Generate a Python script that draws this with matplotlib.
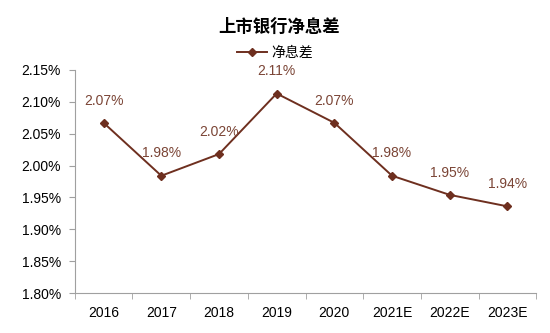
import matplotlib
matplotlib.use("Agg")
import matplotlib.pyplot as plt
import numpy as np

plt.rcParams['font.family'] = ['Liberation Sans', 'Noto Sans CJK SC']

# data
years = ['2016', '2017', '2018', '2019', '2020', '2021E', '2022E', '2023E']
nim = [2.067, 1.984, 2.018, 2.113, 2.067, 1.984, 1.954, 1.936]

line_color = '#6E2F1F'
label_color = '#7B4536'
axis_color = '#A0A0A0'

fig = plt.figure(figsize=(5.5, 3.33), dpi=100)
ax = fig.add_axes([0.136, 0.12, 0.839, 0.67])

x = np.arange(len(years))
ax.plot(x, nim, color=line_color, lw=1.4, marker='D', ms=4.5, label='净息差')

for xi, v in zip(x, nim):
    ax.annotate(f'{v:.2f}%', (xi, v), xytext=(0, 11), textcoords='offset points',
                ha='center', va='bottom', fontsize=10, color=label_color)

ax.set_xlim(-0.5, len(years) - 0.5)
ax.set_ylim(1.80, 2.15)
ax.set_yticks(np.arange(1.80, 2.151, 0.05))
ax.set_yticklabels([f'{t:.2f}%' for t in np.arange(1.80, 2.151, 0.05)])
ax.set_xticks(x)
ax.set_xticklabels(years)
ax.set_xticks(np.arange(-0.5, len(years)), minor=True)
ax.tick_params(axis='x', which='major', length=0, pad=9, labelsize=10)
ax.tick_params(axis='x', which='minor', length=4, color=axis_color)
ax.tick_params(axis='y', length=4, color=axis_color, labelsize=10, pad=6)

for s in ['top', 'right']:
    ax.spines[s].set_visible(False)
for s in ['left', 'bottom']:
    ax.spines[s].set_color(axis_color)

fig.text(0.508, 0.922, '上市银行净息差', ha='center', va='center',
         fontsize=12.5, fontweight='bold')
fig.legend(loc='center', bbox_to_anchor=(0.5, 0.842), frameon=False,
           fontsize=10, handlelength=2.2, handletextpad=0.3)

fig.savefig('out.png', dpi=100)
